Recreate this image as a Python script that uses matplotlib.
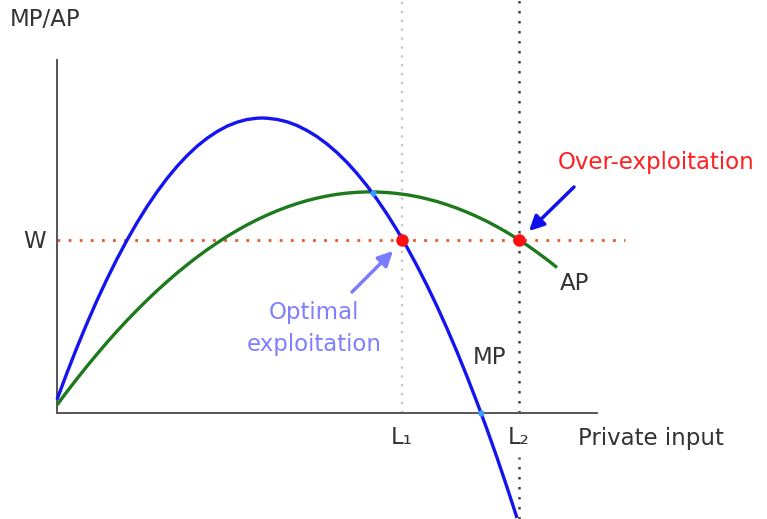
import matplotlib
matplotlib.use("Agg")
import matplotlib.pyplot as plt

# Private input (x) sample positions and curve values
x_mp = [0, 10, 20, 30, 40, 50, 60, 70, 80, 90, 100, 110, 120, 130, 140, 150,
        160, 170, 180, 190, 200, 205, 210, 220, 230, 240, 250, 260, 270, 280, 290,
        300, 310, 320, 330, 340, 350, 360, 370, 380, 390, 400, 410, 420, 430,
        440, 450, 460]
mp = [13.4, 40.2, 65.7, 89.8, 112.6, 134.0, 154.1, 172.9, 190.3, 206.4, 221.1,
      234.5, 246.6, 257.3, 266.7, 274.7, 281.4, 286.8, 290.8, 293.5, 294.8, 295.0,
      294.8, 293.6, 291.2, 287.5, 282.5, 276.4, 269.0, 260.4, 250.6, 239.5, 227.2,
      213.7, 198.9, 182.9, 165.7, 147.2, 127.6, 106.7, 84.5, 61.2, 36.5, 10.7,
      -16.3, -44.6, -74.2, -104.9]
x_ap = [0, 10, 20, 30, 40, 50, 60, 70, 80, 90, 100, 110, 120, 130, 140, 150,
        160, 170, 180, 190, 200, 210, 220, 230, 240, 250, 260, 270, 280, 290,
        300, 310, 320, 330, 340, 350, 360, 370, 380, 390, 400, 410, 420, 430,
        440, 450, 460, 470, 480, 490, 500]
ap = [8.0, 21.4, 34.3, 46.8, 58.9, 70.6, 81.8, 92.6, 102.9, 112.8, 122.3, 131.3,
      140.0, 148.1, 155.9, 163.2, 170.0, 176.5, 182.5, 188.1, 193.2, 197.9, 202.2,
      206.0, 209.4, 212.4, 214.9, 217.0, 218.7, 219.9, 220.7, 221.1, 221.0, 220.5,
      219.5, 218.2, 216.4, 214.1, 211.5, 208.3, 204.8, 200.8, 196.4, 191.6, 186.3,
      180.6, 174.4, 167.9, 160.8, 153.4, 145.5]
wage = 173
L1 = 345
L2 = 462
mp_ap_cross = (316, 220)
mp_zero = (424, 0)

W, H = 767, 519
fig = plt.figure(figsize=(W / 100, H / 100), dpi=100)
ax = fig.add_axes([57 / W, (H - 413) / H, 540 / W, 353 / H])
ax.set_xlim(0, 540)
ax.set_ylim(0, 353)
for s in ["top", "right"]:
    ax.spines[s].set_visible(False)
for s in ["left", "bottom"]:
    ax.spines[s].set_color("#555555")
    ax.spines[s].set_linewidth(1.4)
ax.set_xticks([])
ax.set_yticks([])
ax.patch.set_alpha(0)

# vertical reference lines
ax.plot([L1, L1], [0, 413], color="#c4c4c4", lw=1.6, ls=(0, (1, 3)), clip_on=False, zorder=1)
ax.plot([L2, L2], [0, 413], color="#444444", lw=1.8, ls=(0, (1, 3)), clip_on=False, zorder=1)
ax.plot([L2, L2], [-106, -44], color="#444444", lw=1.8, ls=(0, (1, 3)), clip_on=False, zorder=1)

# wage line
ax.plot([0, 568], [wage, wage], color="#e8552a", lw=2.0, ls=(0, (1, 3)), clip_on=False, zorder=2)

# curves
ax.plot(x_ap, ap, color="#1c7a1c", lw=2.4, clip_on=False, zorder=3, solid_capstyle="butt")
ax.plot(x_mp, mp, color="#1414f0", lw=2.4, clip_on=False, zorder=4, solid_capstyle="butt")

# intersection dots
ax.plot([L1, L2], [wage, wage], "o", color="#ff1010", ms=8, clip_on=False, zorder=5)
ax.plot([mp_ap_cross[0], mp_zero[0]], [mp_ap_cross[1], mp_zero[1]], "o",
        color="#3aa0ff", ms=3.5, clip_on=False, zorder=5)

fs = 16.5
txt = dict(fontsize=fs, color="#333333", family="DejaVu Sans")
ax.text(-47, 393, "MP/AP", ha="left", va="center", **txt)
ax.text(-22, 171, "W", ha="center", va="center", **txt)
ax.text(503, 129, "AP", ha="left", va="center", **txt)
ax.text(416, 56, "MP", ha="left", va="center", **txt)
ax.text(L1, -25, "L\u2081", ha="center", va="center", **txt)
ax.text(L2, -25, "L\u2082", ha="center", va="center", **txt)
ax.text(521, -25, "Private input", ha="left", va="center", **txt)

ax.text(501, 250, "Over-exploitation", ha="left", va="center",
        fontsize=fs, color="#ff2020", family="DejaVu Sans")
ax.text(257, 101, "Optimal", ha="center", va="center",
        fontsize=fs, color="#8080ff", family="DejaVu Sans")
ax.text(257, 69, "exploitation", ha="center", va="center",
        fontsize=fs, color="#8080ff", family="DejaVu Sans")

ax.annotate("", xy=(472, 182), xytext=(517, 226),
            arrowprops=dict(arrowstyle="-|>", color="#1010ee", lw=2.5,
                            mutation_scale=22, shrinkA=0, shrinkB=0),
            annotation_clip=False)
ax.annotate("", xy=(336, 162), xytext=(295, 121),
            arrowprops=dict(arrowstyle="-|>", color="#7b7bff", lw=2.5,
                            mutation_scale=22, shrinkA=0, shrinkB=0),
            annotation_clip=False)

fig.savefig("out.png", dpi=100)
